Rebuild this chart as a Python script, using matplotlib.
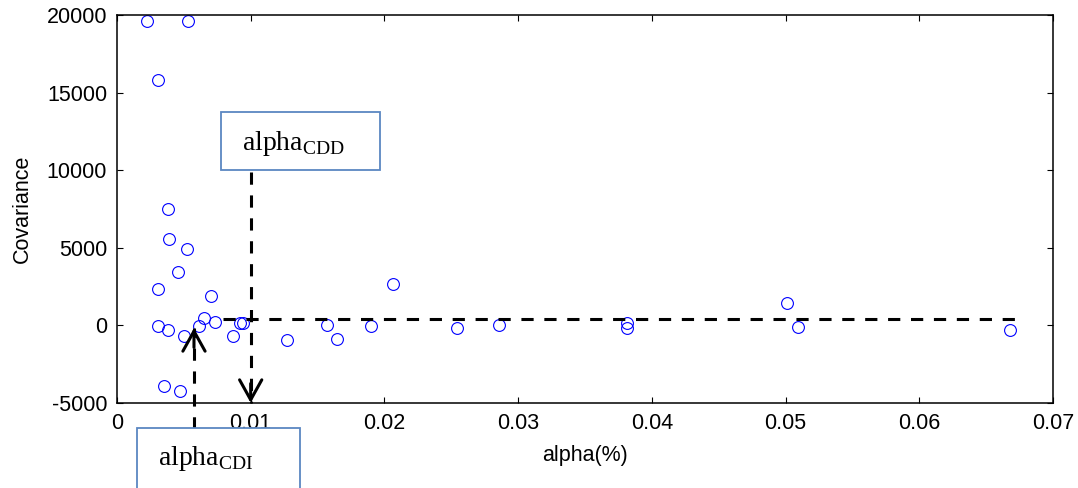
import numpy as np
import matplotlib
matplotlib.use("Agg")
import matplotlib.pyplot as plt
from matplotlib.patches import Rectangle

plt.rcParams['font.family'] = ['Liberation Sans', 'DejaVu Sans']
plt.rcParams['axes.unicode_minus'] = False
plt.rcParams['mathtext.fontset'] = 'custom'
plt.rcParams['mathtext.rm'] = 'Liberation Serif'

# data
alpha = [0.00222, 0.00533, 0.00309, 0.00384, 0.00391, 0.00521, 0.00456, 0.00309,
         0.00703, 0.00651, 0.00735, 0.00616, 0.00309, 0.00384, 0.00501, 0.00920,
         0.00945, 0.00865, 0.01272, 0.00352, 0.00468, 0.01568, 0.01643, 0.01900,
         0.02062, 0.02540, 0.02860, 0.03812, 0.03812, 0.05009, 0.05096, 0.06679]
covariance = [19600, 19600, 15800, 7500, 5550, 4900, 3450, 2350,
              1900, 450, 230, -40, -40, -320, -660, 150,
              150, -660, -960, -3880, -4250, 40, -880, -40,
              2640, -150, 40, 150, -150, 1440, -100, -320]

xticks = [0, 0.01, 0.02, 0.03, 0.04, 0.05, 0.06, 0.07]
xticklabels = ['0', '0.01', '0.02', '0.03', '0.04', '0.05', '0.06', '0.07']
yticks = [-5000, 0, 5000, 10000, 15000, 20000]

# annotation guide lines
cov_level = 400
level_x = [0.0079, 0.0673]
alpha_cdd = 0.01
cdd_y = [9900, -5000]
alpha_cdi = 0.00576
cdi_y = [-6650, -170]

fig = plt.figure(figsize=(10.78, 4.88), dpi=100)
ax = fig.add_axes([0.1085, 0.1742, 0.8683, 0.7951])

ax.plot(alpha, covariance, 'o', mfc='none', mec='#0000ff', ms=8.5, mew=0.8, clip_on=False)

ax.set_xlim(0, 0.07)
ax.set_ylim(-5000, 20000)
ax.set_xticks(xticks)
ax.set_xticklabels(xticklabels)
ax.set_yticks(yticks)
ax.set_yticklabels([str(v) for v in yticks])
ax.tick_params(direction='in', length=4, width=0.8, top=True, right=True,
               labelsize=15.5, pad=7)
for s in ax.spines.values():
    s.set_linewidth(1.1)

ax.set_xlabel('alpha(%)', fontsize=15.5, labelpad=8)
ax.set_ylabel('Covariance', fontsize=15.5, labelpad=10)

dash = dict(color='black', lw=2.2, dashes=(4, 3.5), clip_on=False)
ax.plot(level_x, [cov_level, cov_level], **dash)
ax.plot([alpha_cdd, alpha_cdd], cdd_y, **dash)
ax.plot([alpha_cdi, alpha_cdi], cdi_y, **dash)

head = dict(arrowstyle='->,head_length=0.72,head_width=0.4', lw=2.2, color='black',
            shrinkA=0, shrinkB=0, mutation_scale=20)
ax.annotate('', xy=(alpha_cdd, cdd_y[1]), xytext=(0, 14), textcoords='offset points',
            arrowprops=head, annotation_clip=False)
ax.annotate('', xy=(alpha_cdi, cdi_y[1]), xytext=(0, -14), textcoords='offset points',
            arrowprops=head, annotation_clip=False)

box_color = '#5b87c2'
fig.patches.append(Rectangle((0.2047, 0.6516), 0.1478, 0.1189, transform=fig.transFigure,
                             fill=True, fc='white', ec=box_color, lw=1.3))
fig.patches.append(Rectangle((0.1271, -0.02), 0.1512, 0.143, transform=fig.transFigure,
                             fill=True, fc='white', ec=box_color, lw=1.3))
fig.text(0.2242, 0.6926, r'alpha$_{\mathrm{CDD}}$', family='Liberation Serif', fontsize=20,
         va='baseline', ha='left')
fig.text(0.1466, 0.0471, r'alpha$_{\mathrm{CDI}}$', family='Liberation Serif', fontsize=20,
         va='baseline', ha='left')

fig.savefig('out.png', dpi=100)
